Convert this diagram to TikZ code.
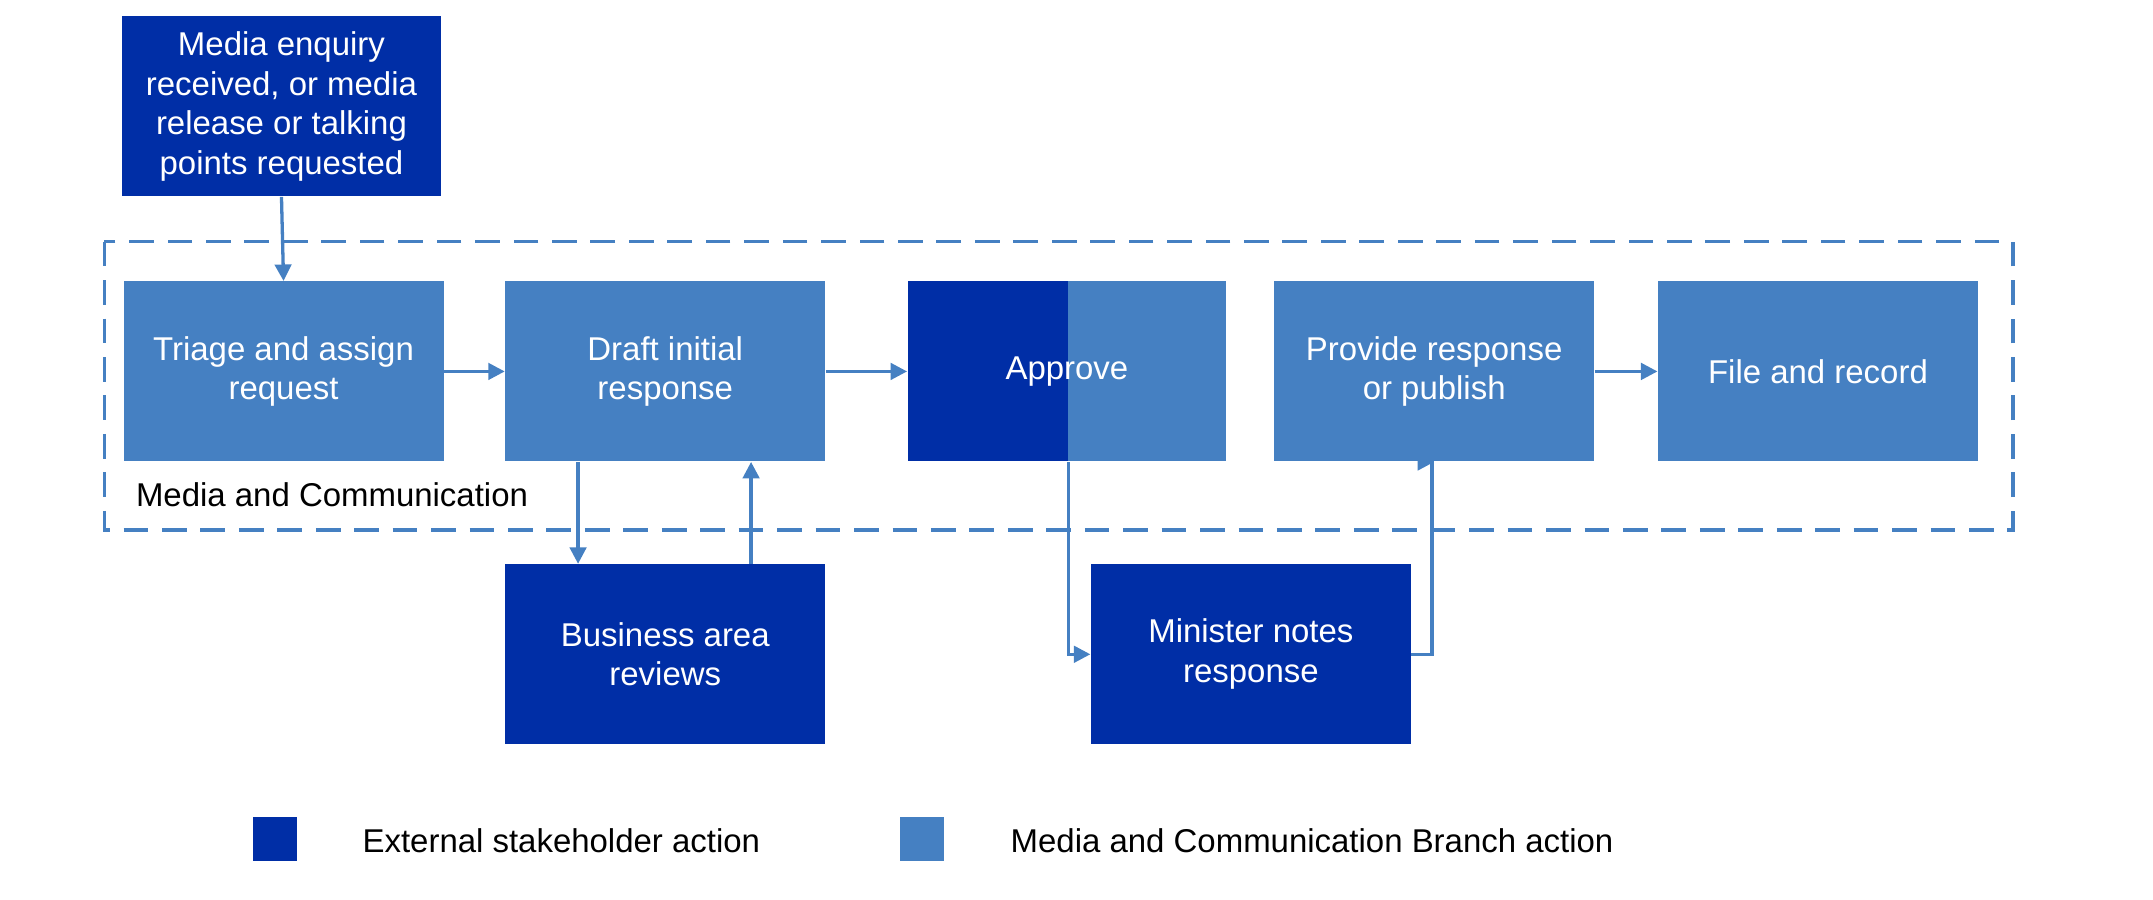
\documentclass[tikz,border=0pt]{standalone}
\usepackage{fontspec}
\setmainfont{Liberation Sans}
\usetikzlibrary{positioning,arrows.meta}
\definecolor{extblue}{RGB}{0,46,166}
\definecolor{mcblue}{RGB}{69,128,194}
\begin{document}
\begin{tikzpicture}[x=0.5pt,y=0.5pt,yscale=-1,
  box/.style={minimum width=116.5pt,minimum height=65.5pt,inner sep=0pt,align=center,
    text=white,font=\fontsize{12}{14.5}\selectfont},
  ext/.style={box,fill=extblue},
  mc/.style={box,fill=mcblue},
  flow/.style={mcblue,line width=1.2pt,-{Triangle[length=6pt,width=6pt]}}]
\useasboundingbox (0,0) rectangle (1568,655);

% dashed frame
\draw[mcblue,line width=1.2pt,dash pattern=on 9pt off 5pt] (76,176) rectangle (1466,386);
\node[anchor=west,font=\fontsize{12}{14}\selectfont] (frame) at (92,360) {Media and Communication};

% boxes
\node[ext] (enq) at (205,77.5) {Media enquiry\\received, or media\\release or talking\\points requested};
\node[mc] (triage) at (206.5,270.5) {Triage and assign\\request};
\node[mc] (draft) at (484.5,270.5) {Draft initial\\response};
\fill[extblue] (661,205) rectangle (778,336);
\fill[mcblue] (778,205) rectangle (893,336);
\node[box,minimum width=116pt] (appr) at (777,270.5) {Approve};
\node[mc] (prov) at (1044.5,270.5) {Provide response\\or publish};
\node[mc] (file) at (1324,270.5) {File and record};
\node[ext] (bus) at (484.5,476.5) {Business area\\reviews};
\node[ext] (min) at (911,476.5) {Minister notes\\response};

% connectors
\draw[flow] (enq.south) -- (triage.north);
\draw[flow] (triage) -- (draft);
\draw[flow] (draft) -- (appr);
\draw[flow] (prov) -- (file);
\draw[flow] (draft.south -| 421,0) -- (bus.north -| 421,0);
\draw[flow] (bus.north -| 547,0) -- (draft.south -| 547,0);
\draw[flow] (appr.south -| 778,0) |- (min.west);
\draw[flow] (min.east) -- ++(15,0) |- (prov.south);

% legend
\node[fill=extblue,minimum size=16pt,inner sep=0pt] (kext) at (200,611) {};
\node[anchor=west,font=\fontsize{12}{14}\selectfont] (lext) at (257,612) {External stakeholder action};
\node[fill=mcblue,minimum size=16pt,inner sep=0pt] (kmc) at (671.5,611) {};
\node[anchor=west,font=\fontsize{12}{14}\selectfont] (lmc) at (729,612) {Media and Communication Branch action};
\end{tikzpicture}
\end{document}
